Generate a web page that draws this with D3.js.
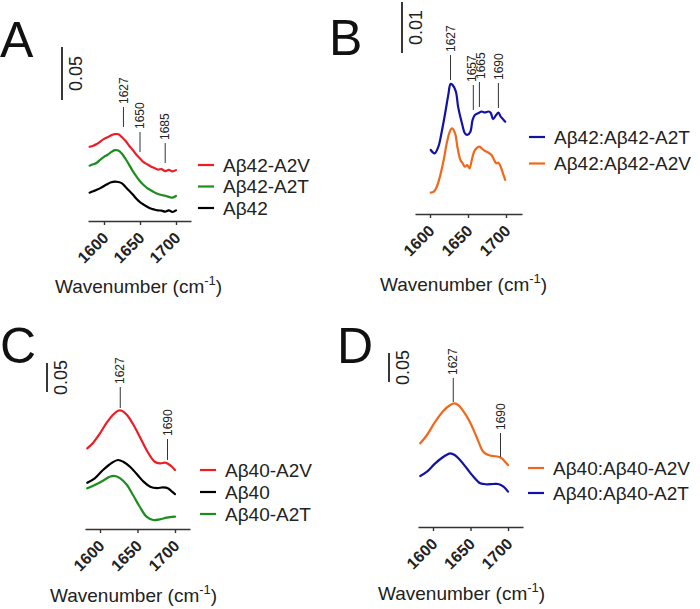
<!DOCTYPE html>
<html><head><meta charset="utf-8">
<script src="https://cdn.jsdelivr.net/npm/d3@7"></script>
<style>
body{margin:0;background:#fff}
svg{display:block}
text{font-family:"Liberation Sans",Arial,sans-serif}
</style>
</head><body><svg id="c" width="700" height="609"></svg>
<script>
// ---------- DATA ----------
const tickValues = [1600, 1650, 1700];

// Panel A
const wnA = [1580,1585,1590,1595,1600,1605,1610,1615,1620,1625,1630,1635,1640,1645,1650,1655,1660,1665,1670,1675,1680,1685,1690,1695,1700];
const A_A2V = [0.0700,0.0710,0.0726,0.0750,0.0775,0.0790,0.0810,0.0820,0.0818,0.0790,0.0755,0.0710,0.0670,0.0625,0.0590,0.0555,0.0535,0.0515,0.0500,0.0485,0.0490,0.0470,0.0482,0.0468,0.0480];
const A_A2T = [0.0522,0.0535,0.0550,0.0580,0.0605,0.0625,0.0650,0.0668,0.0665,0.0635,0.0585,0.0530,0.0470,0.0420,0.0375,0.0340,0.0310,0.0290,0.0270,0.0255,0.0245,0.0238,0.0228,0.0220,0.0236];
const A_WT  = [0.0267,0.0280,0.0295,0.0310,0.0330,0.0350,0.0365,0.0372,0.0368,0.0355,0.0320,0.0285,0.0250,0.0210,0.0178,0.0155,0.0135,0.0118,0.0108,0.0100,0.0098,0.0088,0.0100,0.0085,0.0100];
const annA = [1627, 1650, 1685];
const annA_y = [0.0887, 0.0651, 0.0547];

// Panel B
const wnB_A2T = [1601,1606,1611,1615,1620,1624,1627,1629,1634,1637,1642,1646,1649,1653,1656,1659,1664,1668,1672,1677,1680,1683,1687,1690,1693,1696,1699];
const B_A2T = [0.01255,0.0119,0.0132,0.0158,0.0198,0.0233,0.0255,0.0254,0.0240,0.0210,0.0178,0.0158,0.0155,0.0161,0.0184,0.0194,0.0198,0.0201,0.0199,0.0201,0.0198,0.0186,0.0194,0.0199,0.0191,0.0186,0.0181];
const wnB_A2V = [1601,1605,1609,1613,1618,1622,1626,1629,1633,1636,1640,1643,1646,1649,1652,1655,1658,1661,1665,1668,1672,1677,1681,1684,1687,1690,1693,1696,1699];
const B_A2V = [0.00418,0.00437,0.00535,0.00731,0.01059,0.01386,0.01614,0.0168,0.01582,0.0132,0.01059,0.00994,0.00927,0.00961,0.00896,0.01059,0.01222,0.01288,0.0132,0.01288,0.01241,0.01202,0.01157,0.01073,0.00994,0.01006,0.00927,0.00798,0.00667];
const annB = [1627, 1657, 1665, 1690];
const annB_y = [0.02627, 0.02039, 0.02098, 0.02078];

// Panel C
const wnC_A2V = [1583,1591,1600,1609,1618,1624,1629,1636,1644,1653,1662,1669,1673,1680,1687,1691,1696,1700];
const C_A2V = [0.1391,0.1488,0.1650,0.1833,0.1978,0.2040,0.2040,0.1966,0.1810,0.1591,0.1362,0.1219,0.1160,0.1133,0.1143,0.1121,0.1074,0.1017];
const wnC_WT = [1583,1593,1604,1616,1624,1631,1640,1649,1658,1667,1676,1684,1691,1696,1700];
const C_WT = [0.0798,0.0874,0.1017,0.1143,0.1190,0.1160,0.1074,0.0948,0.0816,0.0729,0.0705,0.0716,0.0698,0.0643,0.0603];
const wnC_A2T = [1583,1593,1604,1613,1620,1627,1636,1644,1653,1662,1671,1680,1689,1700];
const C_A2T = [0.0702,0.0759,0.0833,0.0902,0.0914,0.0874,0.0759,0.0586,0.0384,0.0212,0.0155,0.0167,0.0195,0.0212];
const annC = [1627, 1690];
const annC_y = [0.2086, 0.1190];

// Panel D
const wnD_A2V = [1583,1592,1603,1614,1623,1628,1634,1640,1649,1658,1667,1674,1680,1687,1692,1696,1700];
const D_A2V = [0.1443,0.1586,0.1816,0.2005,0.2103,0.2133,0.2103,0.2005,0.1816,0.1557,0.1298,0.1241,0.1224,0.1212,0.1184,0.1126,0.1069];
const wnD_A2T = [1583,1592,1603,1614,1623,1629,1636,1645,1654,1663,1672,1680,1687,1694,1700];
const D_A2T = [0.0879,0.0953,0.1098,0.1212,0.1271,0.1241,0.1155,0.1012,0.0867,0.0753,0.0736,0.0741,0.0741,0.0695,0.0609];
const annD = [1627, 1690];
const annD_y = [0.2155, 0.1207];

// colours
const RED = "#ee1c24", GREEN = "#1b8e1b", BLACK = "#000000", BLUE = "#1212a8", ORANGE = "#f4661a";

// ---------- LAYOUT ----------
const panels = [
  { letter:"A", lx:0, ly:57, left:88, right:191, x1600:104, x1700:176, base:221, ppu:1060,
    bar:{x:62, v0:0.1142, len:0.05, label:"0.05"},
    series:[{wn:wnA,v:A_A2V,c:RED,name:"Aβ42-A2V"},{wn:wnA,v:A_A2T,c:GREEN,name:"Aβ42-A2T"},{wn:wnA,v:A_WT,c:BLACK,name:"Aβ42"}],
    ann:annA, annY:annA_y, annLen:20, annDx:[0,0,0],
    leg:{x:198, y:165, dy:21.5}, title:{x:55, y:293} },
  { letter:"B", lx:329, ly:55, left:415, right:522, x1600:430, x1700:506, base:214, ppu:5100,
    bar:{x:402, v0:0.03157, len:0.01, label:"0.01"},
    series:[{wn:wnB_A2T,v:B_A2T,c:BLUE,name:"Aβ42:Aβ42-A2T"},{wn:wnB_A2V,v:B_A2V,c:ORANGE,name:"Aβ42:Aβ42-A2V"}],
    ann:annB, annY:annB_y, annLen:25, annDx:[0,-2,1,0],
    leg:{x:529, y:137, dy:26.5}, title:{x:380, y:291} },
  { letter:"C", lx:0, ly:363, left:85, right:190, x1600:100, x1700:175, base:529, ppu:580,
    bar:{x:47, v0:0.2362, len:0.05, label:"0.05"},
    series:[{wn:wnC_A2V,v:C_A2V,c:RED,name:"Aβ40-A2V"},{wn:wnC_WT,v:C_WT,c:BLACK,name:"Aβ40"},{wn:wnC_A2T,v:C_A2T,c:GREEN,name:"Aβ40-A2T"}],
    ann:annC, annY:annC_y, annLen:21, annDx:[0,0],
    leg:{x:200, y:470, dy:22}, title:{x:50, y:602} },
  { letter:"D", lx:337, ly:363, left:418, right:523, x1600:433, x1700:508, base:527, ppu:580,
    bar:{x:389, v0:0.25, len:0.05, label:"0.05"},
    series:[{wn:wnD_A2V,v:D_A2V,c:ORANGE,name:"Aβ40:Aβ40-A2V"},{wn:wnD_A2T,v:D_A2T,c:BLUE,name:"Aβ40:Aβ40-A2T"}],
    ann:annD, annY:annD_y, annLen:24, annDx:[0,0],
    leg:{x:528, y:468, dy:25}, title:{x:378, y:600} }
];

const svg = d3.select("#c");
const FF = '"Liberation Sans",Arial,sans-serif';

panels.forEach(p => {
  const g = svg.append("g");
  const x0 = d3.scaleLinear().domain([1600,1700]).range([p.x1600,p.x1700]);
  const x = d3.scaleLinear().domain([x0.invert(p.left), x0.invert(p.right)]).range([p.left,p.right]);
  const y = d3.scaleLinear().domain([0,1]).range([p.base, p.base - p.ppu]);

  // panel letter
  g.append("text").attr("x",p.lx).attr("y",p.ly).attr("font-size",50).attr("fill","#111").text(p.letter);

  // axis
  const ax = g.append("g").attr("transform",`translate(0,${p.base})`)
    .call(d3.axisBottom(x).tickValues(tickValues).tickSize(4).tickSizeOuter(0).tickFormat(d3.format("d")));
  ax.attr("font-family",FF);
  ax.select(".domain").attr("stroke","#333").attr("stroke-width",1.6);
  ax.selectAll(".tick line").attr("stroke","#333").attr("stroke-width",1.4);
  ax.selectAll(".tick text").attr("font-size",16).attr("font-weight","bold").attr("fill","#222")
    .attr("text-anchor","end").attr("x",0).attr("y",0).attr("dy","0.35em")
    .attr("transform","translate(1,14) rotate(-45)");

  // title
  const t = g.append("text").attr("x",p.title.x).attr("y",p.title.y).attr("font-size",19).attr("fill","#222");
  t.append("tspan").text("Wavenumber (cm");
  t.append("tspan").attr("dy",-8).attr("font-size",13).text("-1");
  t.append("tspan").attr("dy",8).text(")");

  // scale bar
  g.append("line").attr("x1",p.bar.x).attr("x2",p.bar.x)
    .attr("y1",y(p.bar.v0)).attr("y2",y(p.bar.v0+p.bar.len)).attr("stroke","#222").attr("stroke-width",1.8);
  const ym = (y(p.bar.v0)+y(p.bar.v0+p.bar.len))/2;
  g.append("text").attr("transform",`translate(${p.bar.x+20},${ym}) rotate(-90)`)
    .attr("text-anchor","middle").attr("font-size",18).attr("fill","#222").text(p.bar.label);

  // data lines
  const line = d3.line().x(d=>x(d[0])).y(d=>y(d[1])).curve(d3.curveCatmullRom.alpha(0.5));
  p.series.forEach(s => {
    g.append("path").datum(s.wn.map((w,i)=>[w,s.v[i]]))
      .attr("d",line).attr("fill","none").attr("stroke",s.c).attr("stroke-width",2.2)
      .attr("stroke-linejoin","round").attr("stroke-linecap","round");
  });

  // annotations
  p.ann.forEach((w,i) => {
    const xb = x(w), yb = y(p.annY[i]);
    g.append("line").attr("x1",xb).attr("x2",xb).attr("y1",yb).attr("y2",yb-p.annLen)
      .attr("stroke","#333").attr("stroke-width",1);
    g.append("text").attr("transform",`translate(${xb+p.annDx[i]},${yb-p.annLen-3}) rotate(-90)`)
      .attr("dy","0.35em").attr("font-size",12).attr("fill","#222").text(w);
  });

  // legend
  p.series.forEach((s,i) => {
    const ly = p.leg.y + i*p.leg.dy;
    g.append("line").attr("x1",p.leg.x).attr("x2",p.leg.x+16).attr("y1",ly).attr("y2",ly)
      .attr("stroke",s.c).attr("stroke-width",2.2);
    g.append("text").attr("x",p.leg.x+25).attr("y",ly).attr("dy","0.35em")
      .attr("font-size",19).attr("fill","#222").text(s.name);
  });
});
</script>
</body></html>
